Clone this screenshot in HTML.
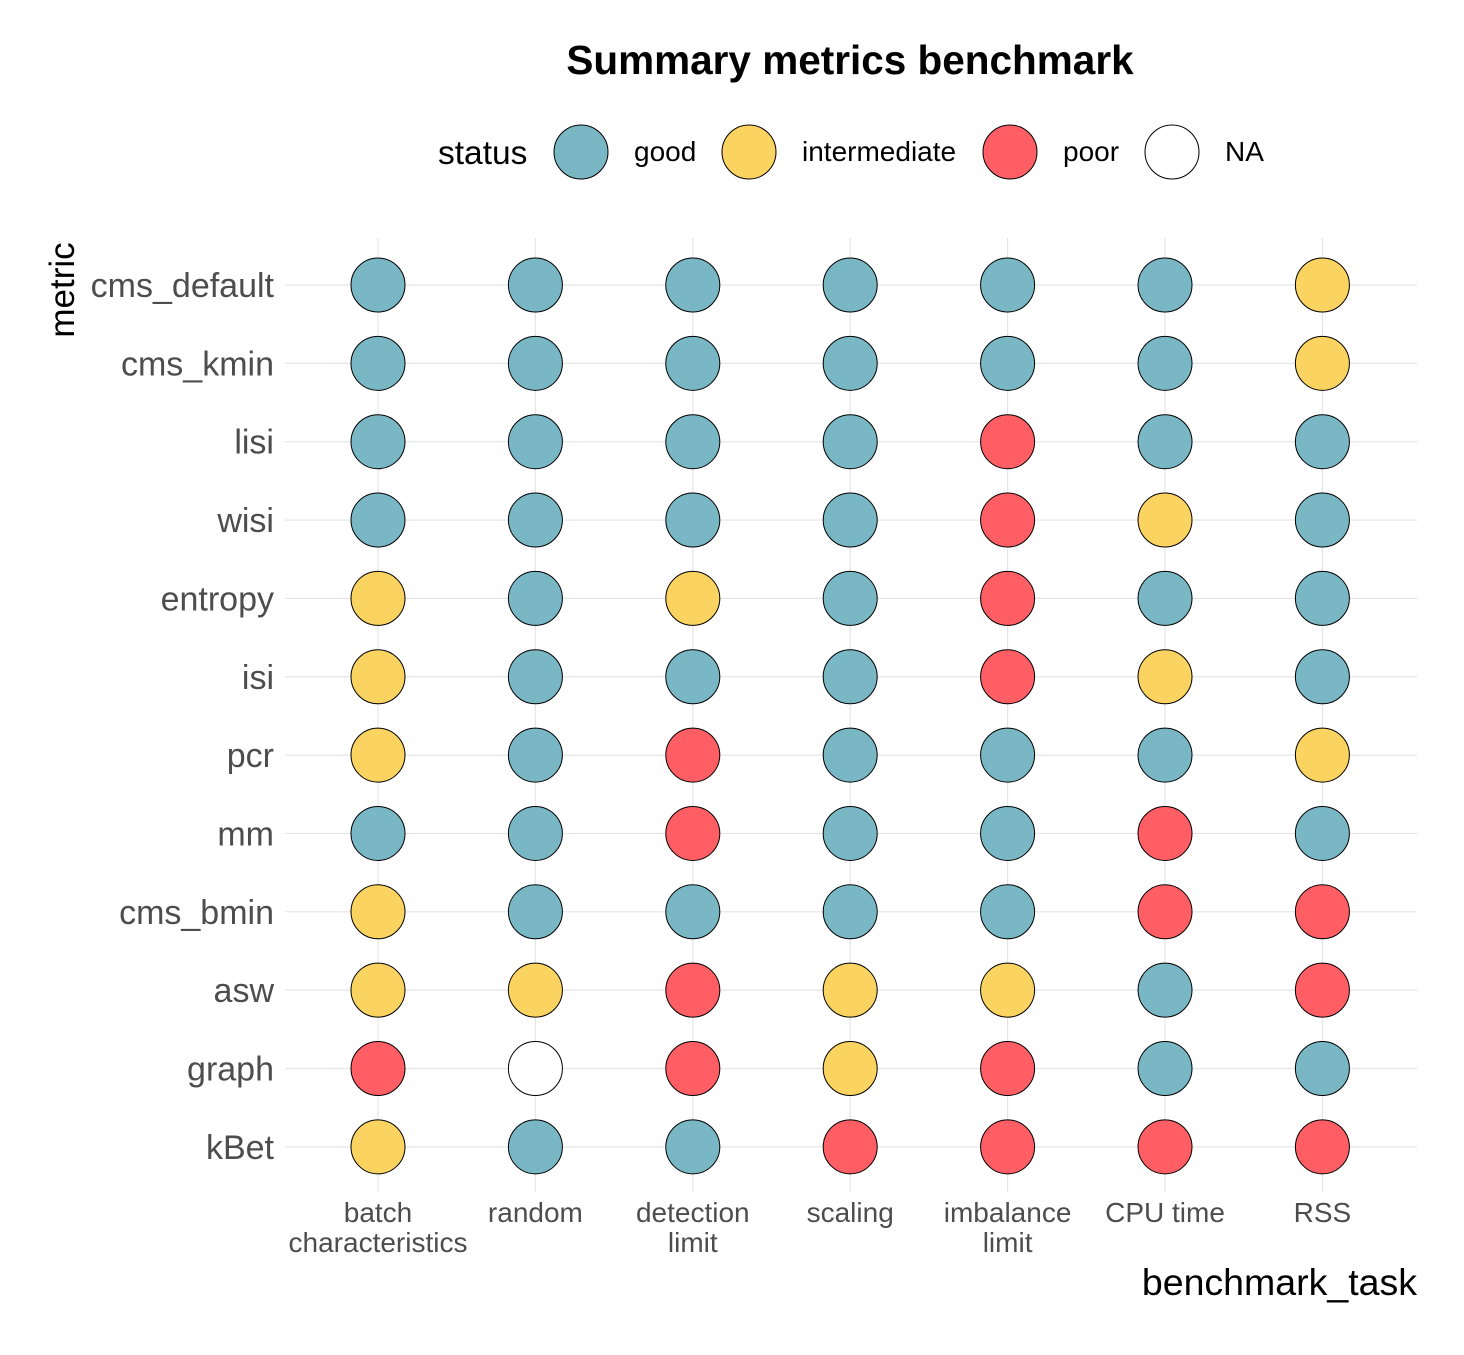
<!DOCTYPE html>
<html><head><meta charset="utf-8"><style>
body{margin:0;background:#fff;}
svg text{font-family:"Liberation Sans",sans-serif;}
</style></head><body>
<svg id="chart" width="1464" height="1350" xmlns="http://www.w3.org/2000/svg">
<rect width="1464" height="1350" fill="#fff"/>
<text x="850" y="74" text-anchor="middle" font-size="40.5" font-weight="bold" fill="#000">Summary metrics benchmark</text>
<g id="legend"></g>
<g id="grid"></g>
<g id="marks"></g>
<g id="axes"></g>
<text x="1417" y="1295" text-anchor="end" font-size="37.5" fill="#000">benchmark_task</text>
<text transform="translate(74,290) rotate(-90)" text-anchor="middle" font-size="35" fill="#000">metric</text>
</svg>
<script>
const tasks=[["batch","characteristics"],["random"],["detection","limit"],["scaling"],["imbalance","limit"],["CPU time"],["RSS"]];
const metrics=["cms_default","cms_kmin","lisi","wisi","entropy","isi","pcr","mm","cms_bmin","asw","graph","kBet"];
const statusLevels=["good","intermediate","poor","NA"];
const S=[
["g","g","g","g","g","g","i"],
["g","g","g","g","g","g","i"],
["g","g","g","g","p","g","g"],
["g","g","g","g","p","i","g"],
["i","g","i","g","p","g","g"],
["i","g","g","g","p","i","g"],
["i","g","p","g","g","g","i"],
["g","g","p","g","g","p","g"],
["i","g","g","g","g","p","p"],
["i","i","p","i","i","g","p"],
["p","N","p","i","p","g","g"],
["i","g","g","p","p","p","p"]];
const fills={g:"#79B7C5",i:"#FAD361",p:"#FF5F64",N:"#FFFFFF"};
const NS="http://www.w3.org/2000/svg";
const xs=i=>378+i*157.4;
const ys=j=>285+j*78.35;
function mk(t,a,p){const e=document.createElementNS(NS,t);for(const k in a)e.setAttribute(k,a[k]);p.appendChild(e);return e;}
const grid=document.getElementById('grid'),marks=document.getElementById('marks'),axes=document.getElementById('axes'),leg=document.getElementById('legend');
tasks.forEach((t,i)=>{const l=mk('line',{x1:xs(i),x2:xs(i),y1:238,y2:1192,stroke:"#e5e5e5","stroke-width":1.2},grid);

t.forEach((s,k)=>{const tx=mk('text',{x:xs(i),y:1222+k*30,"text-anchor":"middle","font-size":28,fill:"#4d4d4d"},axes);tx.textContent=s;
});});
metrics.forEach((m,j)=>{const l=mk('line',{x1:285,x2:1417,y1:ys(j),y2:ys(j),stroke:"#e5e5e5","stroke-width":1.2},grid);

const tx=mk('text',{x:274,y:ys(j)+12,"text-anchor":"end","font-size":34,fill:"#4d4d4d"},axes);tx.textContent=m;

S[j].forEach((v,i)=>{const c=mk('circle',{cx:xs(i),cy:ys(j),r:27,fill:fills[v],stroke:"#000","stroke-width":1},marks);
});});
const lt=mk('text',{x:438,y:164,"font-size":33.5,fill:"#000"},leg);lt.textContent="status";

const lx=[581,749,1010,1172],lk=["g","i","p","N"];
statusLevels.forEach((s,i)=>{const c=mk('circle',{cx:lx[i],cy:152,r:27,fill:fills[lk[i]],stroke:"#000","stroke-width":1},leg);

const t=mk('text',{x:lx[i]+53,y:161,"font-size":28,fill:"#000"},leg);t.textContent=s;
});
</script>
</body></html>
